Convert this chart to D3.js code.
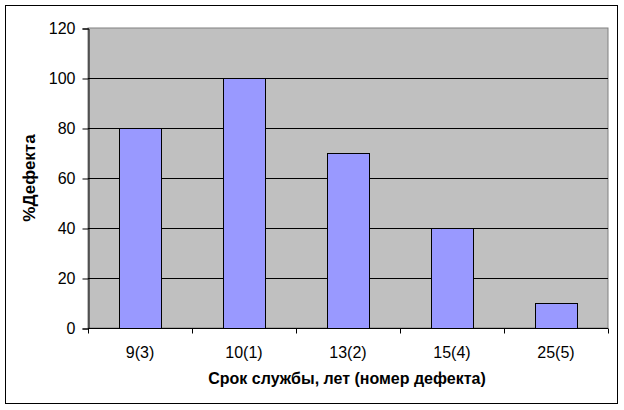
<!DOCTYPE html>
<html><head><meta charset="utf-8">
<script src="https://cdn.jsdelivr.net/npm/d3@7"></script>
<style>body{margin:0;background:#fff}svg{display:block}text{font-family:"Liberation Sans",Arial,sans-serif}</style>
</head><body><svg id="c" width="624" height="410"></svg>
<script>
const categories = ["9(3)", "10(1)", "13(2)", "15(4)", "25(5)"];
const values = [80, 100, 70, 40, 10];
const yTicks = [0, 20, 40, 60, 80, 100, 120];
const xTitle = "Срок службы, лет (номер дефекта)";
const yTitle = "%Дефекта";

const svg = d3.select("#c");
const L = 88, R = 608, T = 28, B = 328;
svg.append("rect").attr("x", 5.5).attr("y", 5.5).attr("width", 612).attr("height", 398)
  .attr("fill", "#fff").attr("stroke", "#000").attr("stroke-width", 1);

const x = d3.scaleBand().domain(categories).range([L, R]).paddingInner(0.6).paddingOuter(0.3);
const y = d3.scaleLinear().domain([0, 120]).range([B, T]);

svg.append("rect").attr("x", L).attr("y", T).attr("width", R - L).attr("height", B - T)
  .attr("fill", "#c0c0c0").attr("stroke", "#808080").attr("stroke-width", 1);

svg.append("g").selectAll("line").data(yTicks.filter(d => d > 0 && d < 120)).join("line")
  .attr("x1", L).attr("x2", R).attr("y1", d => Math.round(y(d)) + 0.5).attr("y2", d => Math.round(y(d)) + 0.5)
  .attr("stroke", "#000");

svg.append("g").selectAll("rect").data(values).join("rect")
  .attr("x", (d, i) => Math.round(x(categories[i])) + 0.5)
  .attr("y", d => Math.round(y(d)) + 0.5)
  .attr("width", Math.round(x.bandwidth()))
  .attr("height", d => Math.round(y(0)) - Math.round(y(d)))
  .attr("fill", "#9999ff").attr("stroke", "#000");

// y axis
const ya = svg.append("g").attr("transform", `translate(${L + 0.5},0.5)`)
  .call(d3.axisLeft(y).tickValues(yTicks).tickSize(6).tickPadding(7));
ya.select(".domain").attr("stroke", "#000");
ya.selectAll("text").attr("font-size", "16px").attr("fill", "#000").attr("font-family", "Liberation Sans, Arial, sans-serif");

// x axis
const step = (R - L) / categories.length;
const xa = svg.append("g").attr("transform", `translate(0,${B + 0.5})`);
xa.append("line").attr("x1", L).attr("x2", R).attr("stroke", "#000");
xa.selectAll("line.t").data(d3.range(categories.length + 1)).join("line").attr("class", "t")
  .attr("x1", i => Math.round(L + i * step) + 0.5).attr("x2", i => Math.round(L + i * step) + 0.5)
  .attr("y1", 0).attr("y2", 5).attr("stroke", "#000");
xa.selectAll("text").data(categories).join("text")
  .attr("x", d => x(d) + x.bandwidth() / 2).attr("y", 29)
  .attr("text-anchor", "middle").attr("font-size", "16px").text(d => d);

svg.append("text").attr("x", 347).attr("y", 384).attr("text-anchor", "middle")
  .attr("font-size", "16px").attr("font-weight", "bold").text(xTitle);
svg.append("text").attr("transform", "translate(35,178) rotate(-90)").attr("text-anchor", "middle")
  .attr("font-size", "17px").attr("font-weight", "bold").text(yTitle);
</script></body></html>
